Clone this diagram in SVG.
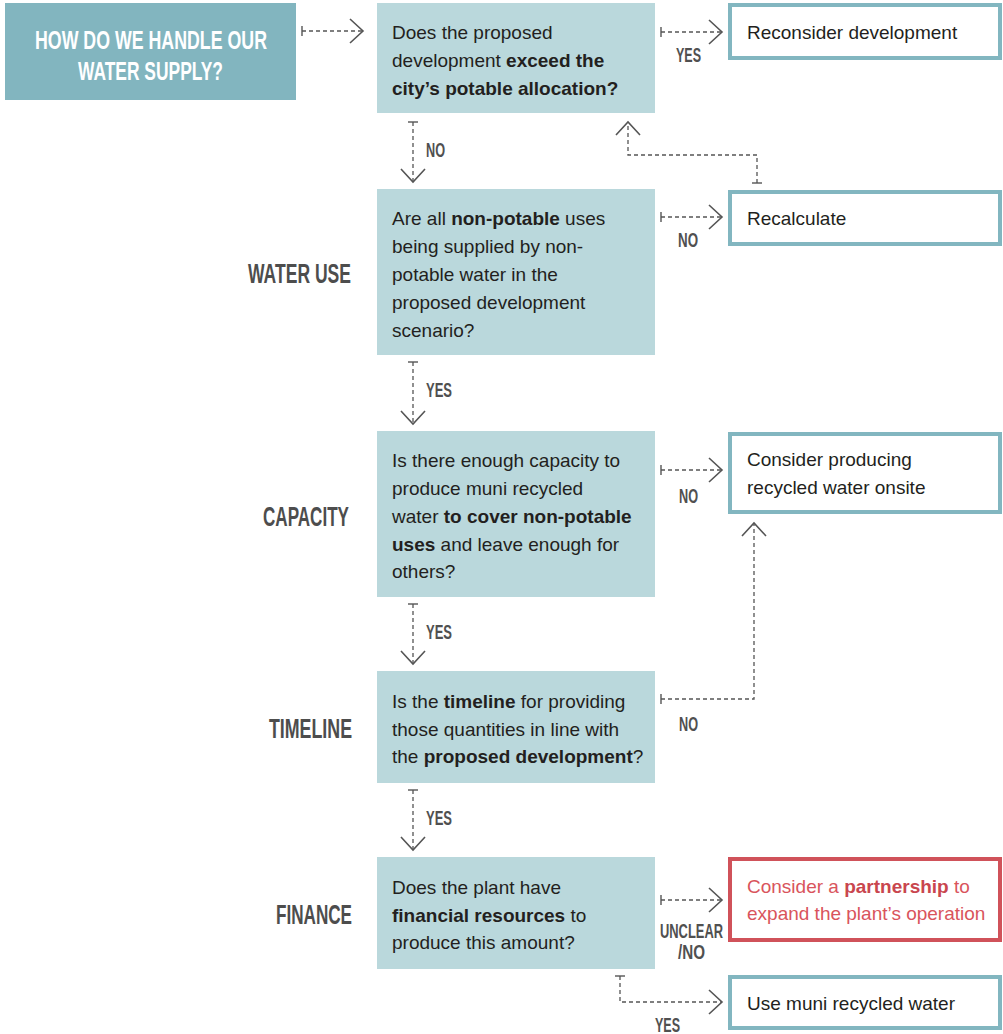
<svg xmlns="http://www.w3.org/2000/svg" width="1003" height="1034" viewBox="0 0 1003 1034">
<style>
  .q { fill: #bad8dc; }
  .qt { font-family: "Liberation Sans", Arial, sans-serif; font-size: 19px; fill: #231f20; }
  .b { font-weight: bold; }
  .out { fill: #ffffff; stroke: #82b6c0; stroke-width: 4; }
  .outr { fill: #ffffff; stroke: #d0525a; stroke-width: 4; }
  .rt { font-family: "Liberation Sans", Arial, sans-serif; font-size: 19px; fill: #d9545c; }
  .rb { font-weight: bold; fill: #c9464e; }
  .title { font-family: "Liberation Sans", Arial, sans-serif; font-size: 26px; font-weight: bold; fill: #ffffff; }
  .side { font-family: "Liberation Sans", Arial, sans-serif; font-size: 27px; font-weight: bold; fill: #4d4d4d; }
  .lbl { font-family: "Liberation Sans", Arial, sans-serif; font-size: 20px; font-weight: bold; fill: #505050; }
  .con { fill: none; stroke: #555555; stroke-width: 1.3; stroke-dasharray: 4 3; marker-start: url(#tick); marker-end: url(#chev); }
</style>
<defs>
  <marker id="chev" markerUnits="userSpaceOnUse" viewBox="-16 -16 32 32" markerWidth="32" markerHeight="32" refX="0" refY="0" orient="auto">
    <path d="M-13,-12 L0,0 L-13,12" fill="none" stroke="#555555" stroke-width="1.6" stroke-dasharray="none"/>
  </marker>
  <marker id="tick" markerUnits="userSpaceOnUse" viewBox="-8 -8 16 16" markerWidth="16" markerHeight="16" refX="0" refY="0" orient="auto">
    <path d="M0,-5 L0,5" fill="none" stroke="#555555" stroke-width="1.4" stroke-dasharray="none"/>
  </marker>
</defs>
<rect width="1003" height="1034" fill="#ffffff"/>

<g id="connectors">
  <path class="con" d="M302,31 H363"/>
  <path class="con" d="M661,32 H722"/>
  <path class="con" d="M413,122 V182"/>
  <path class="con" d="M757,183 V155 H628 V122"/>
  <path class="con" d="M661,217 H722"/>
  <path class="con" d="M413,362 V424"/>
  <path class="con" d="M661,470 H722"/>
  <path class="con" d="M413,604 V664"/>
  <path class="con" d="M661,699 H754 V523"/>
  <path class="con" d="M413,790 V850"/>
  <path class="con" d="M661,900 H722"/>
  <path class="con" d="M620,976 V1002 H722"/>
</g>

<g id="labels">
  <text class="lbl" x="426" y="157" textLength="19" lengthAdjust="spacingAndGlyphs">NO</text>
  <text class="lbl" x="676" y="62" textLength="25" lengthAdjust="spacingAndGlyphs">YES</text>
  <text class="lbl" x="678" y="247" textLength="20" lengthAdjust="spacingAndGlyphs">NO</text>
  <text class="lbl" x="679" y="503" textLength="19" lengthAdjust="spacingAndGlyphs">NO</text>
  <text class="lbl" x="679" y="731" textLength="19" lengthAdjust="spacingAndGlyphs">NO</text>
  <text class="lbl" x="426" y="397" textLength="26" lengthAdjust="spacingAndGlyphs">YES</text>
  <text class="lbl" x="426" y="639" textLength="26" lengthAdjust="spacingAndGlyphs">YES</text>
  <text class="lbl" x="426" y="825" textLength="26" lengthAdjust="spacingAndGlyphs">YES</text>
  <text class="lbl" x="660" y="938" textLength="63" lengthAdjust="spacingAndGlyphs">UNCLEAR</text>
  <text class="lbl" x="678" y="959" textLength="27" lengthAdjust="spacingAndGlyphs">/NO</text>
  <text class="lbl" x="655" y="1032" textLength="25" lengthAdjust="spacingAndGlyphs">YES</text>
</g>

<g id="stages">
  <text class="side" x="248" y="283" textLength="103" lengthAdjust="spacingAndGlyphs">WATER USE</text>
  <text class="side" x="263" y="526" textLength="86" lengthAdjust="spacingAndGlyphs">CAPACITY</text>
  <text class="side" x="269" y="738" textLength="83" lengthAdjust="spacingAndGlyphs">TIMELINE</text>
  <text class="side" x="276" y="924" textLength="76" lengthAdjust="spacingAndGlyphs">FINANCE</text>
</g>

<g id="start">
  <rect x="5" y="3" width="291" height="97" fill="#82b5bf"/>
  <text class="title" x="35" y="49" textLength="232" lengthAdjust="spacingAndGlyphs">HOW DO WE HANDLE OUR</text>
  <text class="title" x="78" y="80" textLength="145" lengthAdjust="spacingAndGlyphs">WATER SUPPLY?</text>
</g>

<g id="q1">
  <rect class="q" x="377" y="3" width="278" height="110"/>
  <text class="qt" x="392" y="39">Does the proposed</text>
  <text class="qt" x="392" y="67">development <tspan class="b">exceed the</tspan></text>
  <text class="qt b" x="392" y="95">city’s potable allocation?</text>
</g>

<g id="q2">
  <rect class="q" x="377" y="189" width="278" height="166"/>
  <text class="qt" x="392" y="225">Are all <tspan class="b">non-potable</tspan> uses</text>
  <text class="qt" x="392" y="253">being supplied by non-</text>
  <text class="qt" x="392" y="281">potable water in the</text>
  <text class="qt" x="392" y="309">proposed development</text>
  <text class="qt" x="392" y="337">scenario?</text>
</g>

<g id="q3">
  <rect class="q" x="377" y="431" width="278" height="166"/>
  <text class="qt" x="392" y="467">Is there enough capacity to</text>
  <text class="qt" x="392" y="495">produce muni recycled</text>
  <text class="qt" x="392" y="523">water <tspan class="b">to cover non-potable</tspan></text>
  <text class="qt" x="392" y="551"><tspan class="b">uses</tspan> and leave enough for</text>
  <text class="qt" x="392" y="578">others?</text>
</g>

<g id="q4">
  <rect class="q" x="377" y="671" width="278" height="112"/>
  <text class="qt" x="392" y="708">Is the <tspan class="b">timeline</tspan> for providing</text>
  <text class="qt" x="392" y="736">those quantities in line with</text>
  <text class="qt" x="392" y="763">the <tspan class="b">proposed development</tspan>?</text>
</g>

<g id="q5">
  <rect class="q" x="377" y="857" width="278" height="112"/>
  <text class="qt" x="392" y="894">Does the plant have</text>
  <text class="qt" x="392" y="922"><tspan class="b">financial resources</tspan> to</text>
  <text class="qt" x="392" y="949">produce this amount?</text>
</g>

<g id="reconsider">
  <rect class="out" x="730" y="5" width="270" height="53"/>
  <text class="qt" x="747" y="39">Reconsider development</text>
</g>

<g id="recalculate">
  <rect class="out" x="730" y="192" width="270" height="52"/>
  <text class="qt" x="747" y="225">Recalculate</text>
</g>

<g id="onsite">
  <rect class="out" x="730" y="434" width="270" height="78"/>
  <text class="qt" x="747" y="466">Consider producing</text>
  <text class="qt" x="747" y="494">recycled water onsite</text>
</g>

<g id="partnership">
  <rect class="outr" x="730" y="859" width="270" height="81"/>
  <text class="rt" x="747" y="893">Consider a <tspan class="rb">partnership</tspan> to</text>
  <text class="rt" x="747" y="920">expand the plant’s operation</text>
</g>

<g id="muni">
  <rect class="out" x="730" y="977" width="270" height="51"/>
  <text class="qt" x="747" y="1010">Use muni recycled water</text>
</g>
</svg>
